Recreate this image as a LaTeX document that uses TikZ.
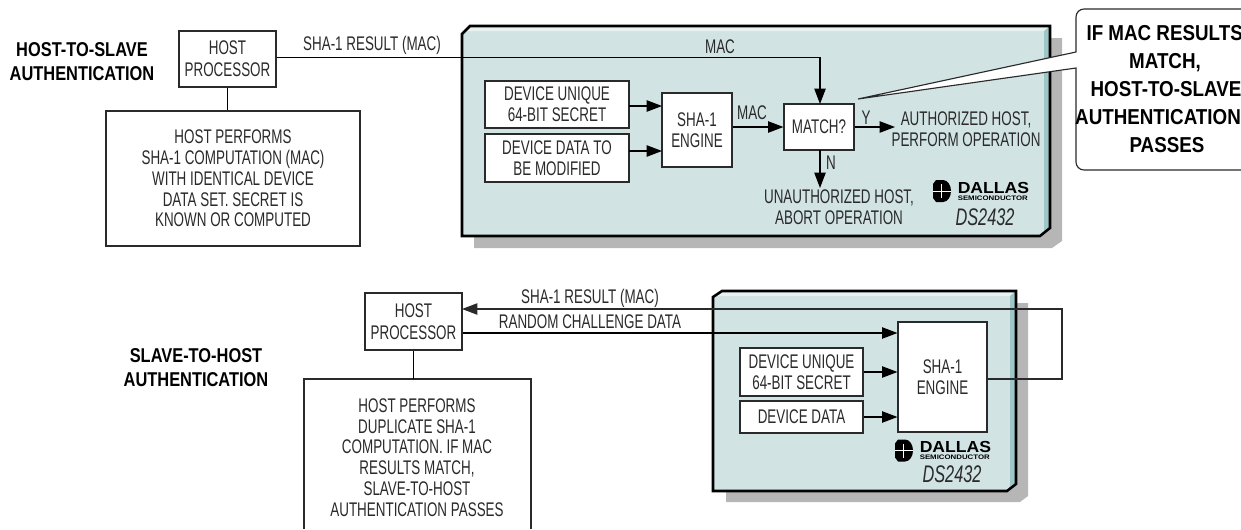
\documentclass[tikz,border=0pt]{standalone}
\usepackage{fontspec}
\setmainfont[FakeStretch=0.68]{Liberation Sans}
\newfontfamily\condbold[FakeStretch=0.82]{Liberation Sans Bold}
\newfontfamily\callbold[FakeStretch=0.87]{Liberation Sans Bold}
\newfontfamily\widebold[FakeStretch=1.1]{Liberation Sans Bold}
\newfontfamily\semibold[FakeStretch=1.2]{Liberation Sans Bold}
\usetikzlibrary{arrows.meta}
\definecolor{panelfill}{HTML}{D2E3E3}
\definecolor{panelstrip}{HTML}{9FC6C6}
\definecolor{paneltop}{HTML}{E9F1F1}
\definecolor{shadowgrey}{HTML}{B6B6B6}
\definecolor{inkgrey}{HTML}{2A2A2A}
\tikzset{
  x=0.75pt,y=-0.75pt,
  boxed/.style 2 args={draw=inkgrey,fill=white,line width=0.85pt,inner sep=0pt,align=center,
    minimum width=#1*0.75pt,minimum height=#2*0.75pt},
  bodytext/.style={font=\fontsize{14.8}{15.6}\selectfont,text=inkgrey},
  label/.style={bodytext,inner sep=0pt,align=center},
  heading/.style={font=\condbold\fontsize{15}{17.6}\selectfont,text=black,inner sep=0pt,align=center},
  conn/.style={draw=black,line width=0.85pt},
  arr/.style={conn,-{Triangle[length=11.5pt,width=8.5pt]}},
  panelline/.style={draw=black,line width=1.9pt,line join=miter},
  dsname/.style={inner sep=0pt,text=inkgrey,font=\itshape\fontsize{18}{19}\selectfont},
}
\newcommand{\dallaslogo}[3]{% x, y of icon centre, node name prefix
  \fill[black] (#1-6,#2-11) -- (#1+1,#2-11) arc[start angle=90,end angle=-90,x radius=6pt,y radius=8.25pt]
     -- (#1-6,#2+11) -- (#1-9,#2+7) -- (#1-9,#2-7) -- cycle;
  \draw[white,line width=0.45pt] (#1-9,#2) -- (#1+9,#2) (#1-1,#2-7) -- (#1-1,#2+7);
  \node[anchor=west,inner sep=0pt,font=\widebold\fontsize{12}{13}\selectfont] (#3dallas) at (#1+15.5,#2-3.5) {DALLAS};
  \node[anchor=west,inner sep=0pt,font=\semibold\fontsize{4.9}{5}\selectfont] (#3semi) at (#1+15.5,#2+7) {SEMICONDUCTOR};
}
\begin{document}
\begin{tikzpicture}
\useasboundingbox (0,0) rectangle (1241,529);

%---------- top panel
\fill[shadowgrey] (474,236) -- (474,248) -- (1052,248) -- (1062,241) -- (1062,38) -- (1050,38) -- cycle;
\fill[panelfill] (462,34) -- (470,26) -- (1050,26) -- (1050,228) -- (1040,236) -- (462,236) -- cycle;
\fill[paneltop] (470,26) -- (1050,26) -- (1044,31) -- (466,31) -- cycle;
\fill[panelstrip] (1050,26) -- (1044,31) -- (1044,231) -- (1040,236) -- (1050,228) -- cycle;
\draw[panelline] (462,34) -- (470,26) -- (1050,26) -- (1050,228) -- (1040,236) -- (462,236) -- cycle;

%---------- bottom panel
\fill[shadowgrey] (726,491) -- (726,502) -- (1020,502) -- (1028,496) -- (1028,303) -- (1016,303) -- cycle;
\fill[panelfill] (713,297) -- (722,291) -- (1016,291) -- (1016,484) -- (1007,491) -- (713,491) -- cycle;
\fill[paneltop] (722,291) -- (1016,291) -- (1010,296) -- (717,296) -- cycle;
\fill[panelstrip] (1016,291) -- (1010,296) -- (1010,486) -- (1007,491) -- (1016,484) -- cycle;
\draw[panelline] (713,297) -- (722,291) -- (1016,291) -- (1016,484) -- (1007,491) -- (713,491) -- cycle;

%---------- headings
\node[heading] (h1) at (82,61.5) {HOST-TO-SLAVE\\AUTHENTICATION};
\node[heading] (h2) at (196,367.5) {SLAVE-TO-HOST\\AUTHENTICATION};

%---------- top row boxes
\node[boxed={97}{56},bodytext] (hostA) at (227.5,59) {HOST\\[1pt]PROCESSOR};
\node[boxed={254}{135},bodytext] (noteA) at (233,178.5) {HOST PERFORMS\\SHA-1 COMPUTATION (MAC)\\WITH IDENTICAL DEVICE\\DATA SET. SECRET IS\\KNOWN OR COMPUTED};
\node[boxed={144}{47},bodytext] (secretA) at (557,104.5) {DEVICE UNIQUE\\64-BIT SECRET};
\node[boxed={144}{48},bodytext] (dataA) at (557,158) {DEVICE DATA TO\\BE MODIFIED};
\node[boxed={70}{74},bodytext] (engineA) at (697,130) {SHA-1\\ENGINE};
\node[boxed={70}{46},bodytext] (matchA) at (819,127) {MATCH?};

\coordinate (topcorner) at (820,57.5);
\coordinate (matchin) at (820,104);
\coordinate (secretOutA) at (629,106);
\coordinate (secretInA) at (662,106);
\coordinate (dataOutA) at (629,151);
\coordinate (dataInA) at (662,151);
\coordinate (noOut) at (820,150);
\coordinate (noEnd) at (820,188);
\coordinate (yesEnd) at (895,127);

\draw[conn] (hostA.south) -- (hostA.south |- noteA.north);
\draw[arr] (hostA.east |- topcorner) -- (topcorner) -- (matchin);
\draw[arr] (secretOutA) -- (secretInA);
\draw[arr] (dataOutA) -- (dataInA);
\draw[arr] (engineA.east |- matchA.east) -- (matchA.west);
\draw[arr] (matchA.east) -- (yesEnd);
\draw[arr] (noOut) -- (noEnd);

\node[label] (l1) at (372,45) {SHA-1 RESULT (MAC)};
\node[label] (l2) at (720,47) {MAC};
\node[label] (l3) at (752,113) {MAC};
\node[label] (l4) at (866,118) {Y};
\node[label] (l5) at (831,163) {N};
\node[label] (l6) at (966,129) {AUTHORIZED HOST,\\PERFORM OPERATION};
\node[label] (l7) at (839,207.5) {UNAUTHORIZED HOST,\\ABORT OPERATION};
\dallaslogo{942}{191}{a}
\node[dsname] (dsA) at (985,217) {DS2432};

%---------- callout
\draw[fill=white,draw=inkgrey,line width=0.85pt]
  (1076,52) [rounded corners=6pt] -- (1076,9) -- (1260,9) -- (1260,170) -- (1076,170) [sharp corners] -- (1076,68) -- (858,99) -- cycle;
\node[heading,font=\callbold\fontsize{16.2}{21}\selectfont] (calltext) at (1158,89) {\hspace*{10pt}IF MAC RESULTS\\\hspace*{10.5pt}MATCH,\\\hspace*{12pt}HOST-TO-SLAVE\\AUTHENTICATION\\\hspace*{13.5pt}PASSES};

%---------- bottom row boxes
\node[boxed={97}{57},bodytext] (hostB) at (413.5,321.5) {HOST\\[1pt]PROCESSOR};
\draw[conn,draw=inkgrey,fill=white] (304,529) -- (304,379) -- (531,379) -- (531,529);
\node[label] (noteB) at (417,457.5) {HOST PERFORMS\\DUPLICATE SHA-1\\COMPUTATION. IF MAC\\RESULTS MATCH,\\SLAVE-TO-HOST\\AUTHENTICATION PASSES};
\node[boxed={89}{110},bodytext] (engineB) at (942.5,377) {SHA-1\\ENGINE};
\node[boxed={123}{48},bodytext] (secretB) at (801.5,372) {DEVICE UNIQUE\\64-BIT SECRET};
\node[boxed={123}{32},bodytext] (dataB) at (801.5,417) {DEVICE DATA};

\coordinate (retTop) at (1062,309);
\coordinate (retOut) at (987,379);
\coordinate (randomY) at (0,333);
\coordinate (hostRet) at (462,309);

\draw[conn] (hostB.south) -- (hostB.south |- 0,379);
\draw[arr,draw=inkgrey] (retOut) -- (retOut -| retTop) -- (retTop) -- (hostRet);
\draw[arr] (hostB.east |- randomY) -- (engineB.west |- randomY);
\draw[arr] (secretB.east) -- (engineB.west |- secretB.east);
\draw[arr] (dataB.east) -- (engineB.west |- dataB.east);

\node[label] (l8) at (590,298) {SHA-1 RESULT (MAC)};
\node[label] (l9) at (590,322) {RANDOM CHALLENGE DATA};
\dallaslogo{904}{450.5}{b}
\node[dsname] (dsB) at (952,474) {DS2432};
\end{tikzpicture}
\end{document}
